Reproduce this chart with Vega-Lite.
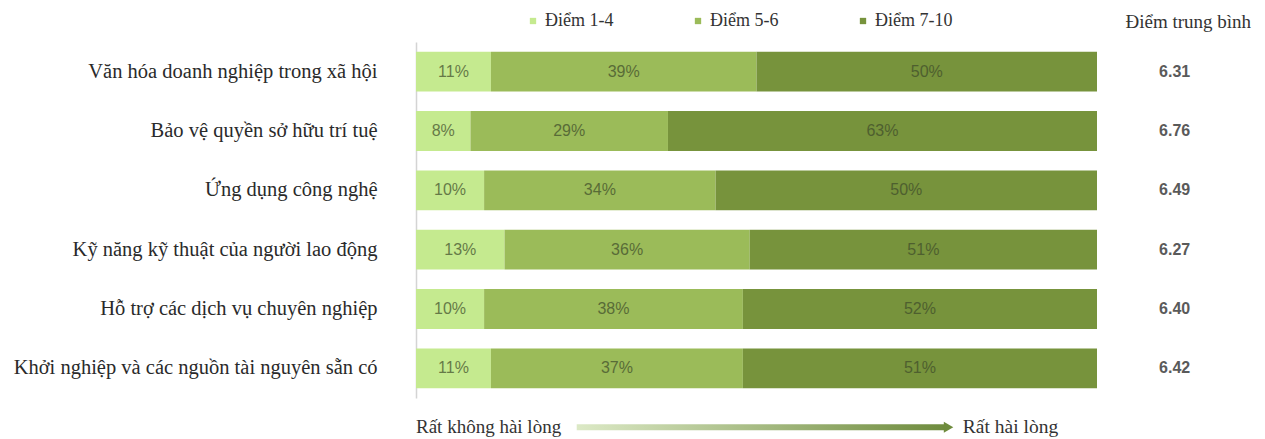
{
  "$schema": "https://vega.github.io/schema/vega-lite/v6.json",
  "width": 681,
  "height": 356,
  "autosize": {"type": "none"},
  "padding": {"left": 416, "top": 42, "right": 168, "bottom": 41},
  "background": "white",
  "config": {"view": {"stroke": null}},
  "datasets": {
    "bars": [
      {"cat": "Văn hóa doanh nghiệp trong xã hội", "group": "Điểm 1-4", "value": 11, "label": "11%"},
      {"cat": "Văn hóa doanh nghiệp trong xã hội", "group": "Điểm 5-6", "value": 39, "label": "39%"},
      {"cat": "Văn hóa doanh nghiệp trong xã hội", "group": "Điểm 7-10", "value": 50, "label": "50%"},
      {"cat": "Bảo vệ quyền sở hữu trí tuệ", "group": "Điểm 1-4", "value": 8, "label": "8%"},
      {"cat": "Bảo vệ quyền sở hữu trí tuệ", "group": "Điểm 5-6", "value": 29, "label": "29%"},
      {"cat": "Bảo vệ quyền sở hữu trí tuệ", "group": "Điểm 7-10", "value": 63, "label": "63%"},
      {"cat": "Ứng dụng công nghệ", "group": "Điểm 1-4", "value": 10, "label": "10%"},
      {"cat": "Ứng dụng công nghệ", "group": "Điểm 5-6", "value": 34, "label": "34%"},
      {"cat": "Ứng dụng công nghệ", "group": "Điểm 7-10", "value": 56, "label": "50%"},
      {"cat": "Kỹ năng kỹ thuật của người lao động", "group": "Điểm 1-4", "value": 13, "label": "13%"},
      {"cat": "Kỹ năng kỹ thuật của người lao động", "group": "Điểm 5-6", "value": 36, "label": "36%"},
      {"cat": "Kỹ năng kỹ thuật của người lao động", "group": "Điểm 7-10", "value": 51, "label": "51%"},
      {"cat": "Hỗ trợ các dịch vụ chuyên nghiệp", "group": "Điểm 1-4", "value": 10, "label": "10%"},
      {"cat": "Hỗ trợ các dịch vụ chuyên nghiệp", "group": "Điểm 5-6", "value": 38, "label": "38%"},
      {"cat": "Hỗ trợ các dịch vụ chuyên nghiệp", "group": "Điểm 7-10", "value": 52, "label": "52%"},
      {"cat": "Khởi nghiệp và các nguồn tài nguyên sẵn có", "group": "Điểm 1-4", "value": 11, "label": "11%"},
      {"cat": "Khởi nghiệp và các nguồn tài nguyên sẵn có", "group": "Điểm 5-6", "value": 37, "label": "37%"},
      {"cat": "Khởi nghiệp và các nguồn tài nguyên sẵn có", "group": "Điểm 7-10", "value": 52, "label": "51%"}
    ],
    "avg": [
      {"cat": "Văn hóa doanh nghiệp trong xã hội", "avg": "6.31"},
      {"cat": "Bảo vệ quyền sở hữu trí tuệ", "avg": "6.76"},
      {"cat": "Ứng dụng công nghệ", "avg": "6.49"},
      {"cat": "Kỹ năng kỹ thuật của người lao động", "avg": "6.27"},
      {"cat": "Hỗ trợ các dịch vụ chuyên nghiệp", "avg": "6.40"},
      {"cat": "Khởi nghiệp và các nguồn tài nguyên sẵn có", "avg": "6.42"}
    ]
  },
  "layer": [
    {
      "data": {"name": "bars"},
      "transform": [
        {"stack": "value", "groupby": ["cat"], "sort": [{"field": "group"}], "as": ["x0", "x1"]},
        {"calculate": "(datum.x0 + datum.x1) / 2", "as": "xm"}
      ],
      "layer": [
        {
          "mark": {"type": "bar"},
          "encoding": {
            "y": {"field": "cat", "type": "nominal", "sort": null,
                  "scale": {"paddingInner": 0.33, "paddingOuter": 0.165},
                  "axis": {"title": null, "ticks": false, "labelFont": "Liberation Serif", "labelFontSize": 20.5, "labelColor": "#2a2a2a", "labelPadding": 39, "labelLimit": 600, "domainColor": "#d4d4d4", "domainWidth": 1.5}},
            "x": {"field": "x0", "type": "quantitative", "scale": {"domain": [0, 100], "nice": false, "zero": false}, "axis": null},
            "x2": {"field": "x1"},
            "color": {"field": "group", "type": "nominal",
                      "scale": {"domain": ["Điểm 1-4", "Điểm 5-6", "Điểm 7-10"], "range": ["#c5ea8f", "#9bbb59", "#77933c"]},
                      "legend": {"title": null, "orient": "none", "direction": "horizontal", "legendX": 108, "legendY": -30,
                                 "symbolType": "square", "symbolSize": 40, "labelFont": "Liberation Serif", "labelFontSize": 18,
                                 "labelColor": "#333", "labelOffset": 3, "columnPadding": 75, "padding": 0}}
          }
        },
        {
          "mark": {"type": "text", "font": "Liberation Sans", "fontSize": 16, "color": "#3d4a2a", "opacity": 0.7},
          "encoding": {
            "y": {"field": "cat", "type": "nominal", "sort": null},
            "x": {"field": "xm", "type": "quantitative"},
            "text": {"field": "label"}
          }
        }
      ]
    },
    {
      "data": {"name": "avg"},
      "mark": {"type": "text", "font": "Liberation Sans", "fontSize": 16, "fontWeight": "bold", "color": "#5a5a5a"},
      "encoding": {
        "y": {"field": "cat", "type": "nominal", "sort": null},
        "x": {"datum": 111.4},
        "text": {"field": "avg"}
      }
    },
    {
      "data": {"values": [{"text": "Điểm trung bình"}]},
      "mark": {"type": "text", "font": "Liberation Serif", "fontSize": 19, "color": "#333333", "yOffset": -50},
      "encoding": {
        "y": {"datum": "Văn hóa doanh nghiệp trong xã hội"},
        "x": {"datum": 113.4},
        "text": {"field": "text"}
      }
    },
    {
      "data": {"values": [{"text": "Rất không hài lòng"}]},
      "mark": {"type": "text", "font": "Liberation Serif", "fontSize": 19, "color": "#333333", "align": "left", "yOffset": 59},
      "encoding": {
        "y": {"datum": "Khởi nghiệp và các nguồn tài nguyên sẵn có"},
        "x": {"datum": 0},
        "text": {"field": "text"}
      }
    },
    {
      "data": {"values": [{"text": "Rất hài lòng"}]},
      "mark": {"type": "text", "font": "Liberation Serif", "fontSize": 19.5, "color": "#333333", "align": "left", "yOffset": 59},
      "encoding": {
        "y": {"datum": "Khởi nghiệp và các nguồn tài nguyên sẵn có"},
        "x": {"datum": 80.3},
        "text": {"field": "text"}
      }
    },
    {
      "data": {"values": [{"from": 23.6, "to": 78}]},
      "mark": {"type": "bar", "height": 6, "yOffset": 59,
               "color": {"gradient": "linear", "x1": 0, "x2": 1, "y1": 0, "y2": 0,
                         "stops": [{"offset": 0, "color": "#dce9c6"}, {"offset": 1, "color": "#6e8b3d"}]}},
      "encoding": {
        "y": {"datum": "Khởi nghiệp và các nguồn tài nguyên sẵn có"},
        "x": {"field": "from", "type": "quantitative"},
        "x2": {"field": "to"}
      }
    },
    {
      "data": {"values": [{"tip": 78.2}]},
      "mark": {"type": "point", "shape": "triangle-right", "filled": true, "size": 120, "color": "#6e8b3d", "opacity": 1, "yOffset": 59},
      "encoding": {
        "y": {"datum": "Khởi nghiệp và các nguồn tài nguyên sẵn có"},
        "x": {"field": "tip", "type": "quantitative"}
      }
    }
  ]
}
